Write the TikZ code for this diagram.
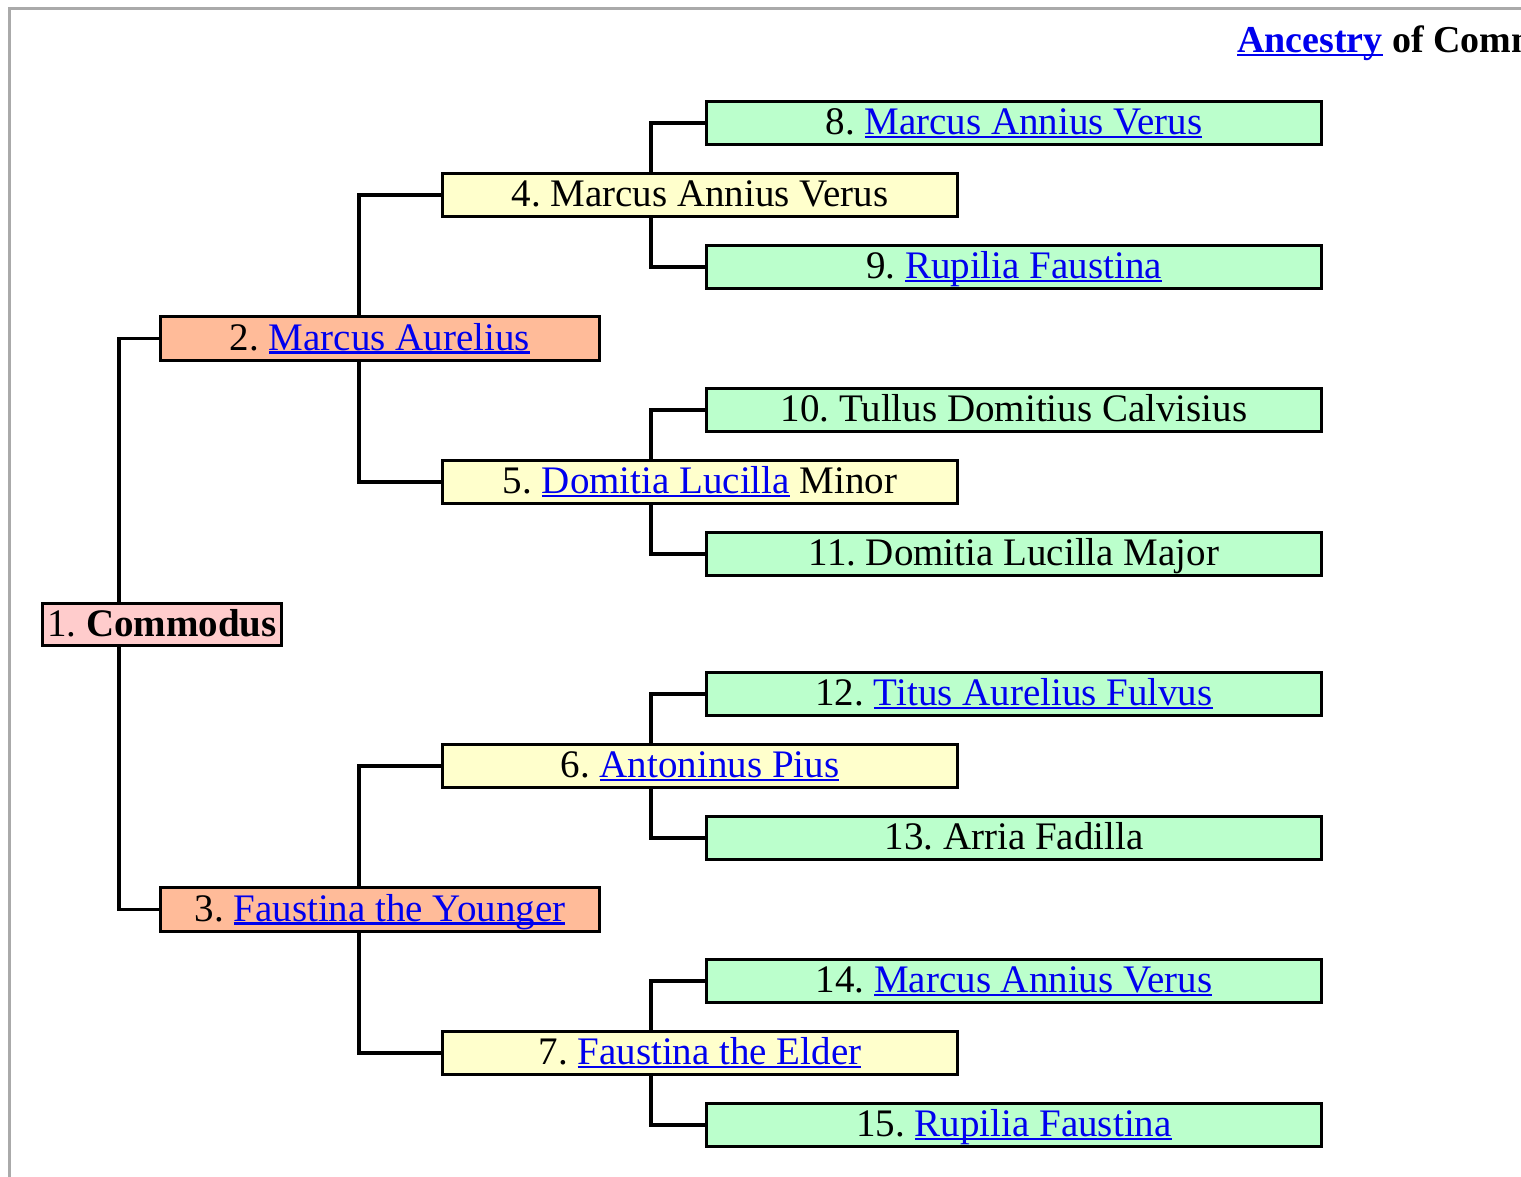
\documentclass[tikz,border=0pt]{standalone}
\usepackage{fontspec}
\setmainfont{Liberation Serif}
\frenchspacing
\definecolor{lb}{HTML}{0000EE}
\definecolor{pinkc}{HTML}{FFCCCC}
\definecolor{salmon}{HTML}{FFBB99}
\definecolor{yel}{HTML}{FFFFCC}
\definecolor{grn}{HTML}{BBFFCC}
\definecolor{frame}{HTML}{AAAAAA}
\newcommand\lnk[1]{{\color{lb}\setbox0\hbox{#1}\rlap{\rule[-0.1em]{\wd0}{0.065em}}\box0}}
\begin{document}
\begin{tikzpicture}[x=1pt,y=-1pt,
  person/.style={draw=black, line width=3.3pt, inner sep=0pt, align=center,
    text height=31pt, text depth=8pt,
    font=\fontsize{39}{46}\selectfont\frenchspacing},
  gen1/.style={person, fill=pinkc, minimum width=239pt, minimum height=42pt},
  gen2/.style={person, fill=salmon, minimum width=439pt, minimum height=44pt},
  gen3/.style={person, fill=yel, minimum width=515pt, minimum height=43pt},
  gen4/.style={person, fill=grn, minimum width=615pt, minimum height=43pt},
  link/.style={line width=3.3pt, line join=miter}]
\clip (0,0) rectangle (1521,1177);
\fill[white] (0,0) rectangle (1521,1177);
% page frame
\draw[frame, line width=3pt] (9.5,1177) -- (9.5,9) -- (1521,9);
% title
\node[anchor=base west, inner sep=0pt, font=\fontsize{38}{45}\selectfont\bfseries] (title) at (1237,52.5) {\lnk{Ancestry} of Commodus};
% people
\node[gen1] (p1) at (162,624.5) {1. \textbf{Commodus}};
\node[gen2] (p2) at (380,338.5) {2. \lnk{Marcus Aurelius}};
\node[gen2] (p3) at (380,909.5) {3. \lnk{Faustina the Younger}};
\node[gen3] (p4) at (700,195) {4. Marcus Annius Verus};
\node[gen3] (p5) at (700,482) {5. \lnk{Domitia Lucilla} Minor};
\node[gen3] (p6) at (700,766) {6. \lnk{Antoninus Pius}};
\node[gen3] (p7) at (700,1053) {7. \lnk{Faustina the Elder}};
\node[gen4] (p8) at (1014,123) {8. \lnk{Marcus Annius Verus}};
\node[gen4] (p9) at (1014,267) {9. \lnk{Rupilia Faustina}};
\node[gen4] (p10) at (1014,410) {10. Tullus Domitius Calvisius};
\node[gen4] (p11) at (1014,554) {11. Domitia Lucilla Major};
\node[gen4] (p12) at (1014,694) {12. \lnk{Titus Aurelius Fulvus}};
\node[gen4] (p13) at (1014,838) {13. Arria Fadilla};
\node[gen4] (p14) at (1014,981) {14. \lnk{Marcus Annius Verus}};
\node[gen4] (p15) at (1014,1125) {15. \lnk{Rupilia Faustina}};
% trunk x positions
\coordinate (x1) at (119,0);
\coordinate (x2) at (359,0);
\coordinate (x3) at (651,0);
% connectors
\draw[link] (x1 |- p1.north) |- (p2.west);
\draw[link] (x1 |- p1.south) |- (p3.west);
\draw[link] (x2 |- p2.north) |- (p4.west);
\draw[link] (x2 |- p2.south) |- (p5.west);
\draw[link] (x2 |- p3.north) |- (p6.west);
\draw[link] (x2 |- p3.south) |- (p7.west);
\draw[link] (x3 |- p4.north) |- (p8.west);
\draw[link] (x3 |- p4.south) |- (p9.west);
\draw[link] (x3 |- p5.north) |- (p10.west);
\draw[link] (x3 |- p5.south) |- (p11.west);
\draw[link] (x3 |- p6.north) |- (p12.west);
\draw[link] (x3 |- p6.south) |- (p13.west);
\draw[link] (x3 |- p7.north) |- (p14.west);
\draw[link] (x3 |- p7.south) |- (p15.west);
\end{tikzpicture}
\end{document}
